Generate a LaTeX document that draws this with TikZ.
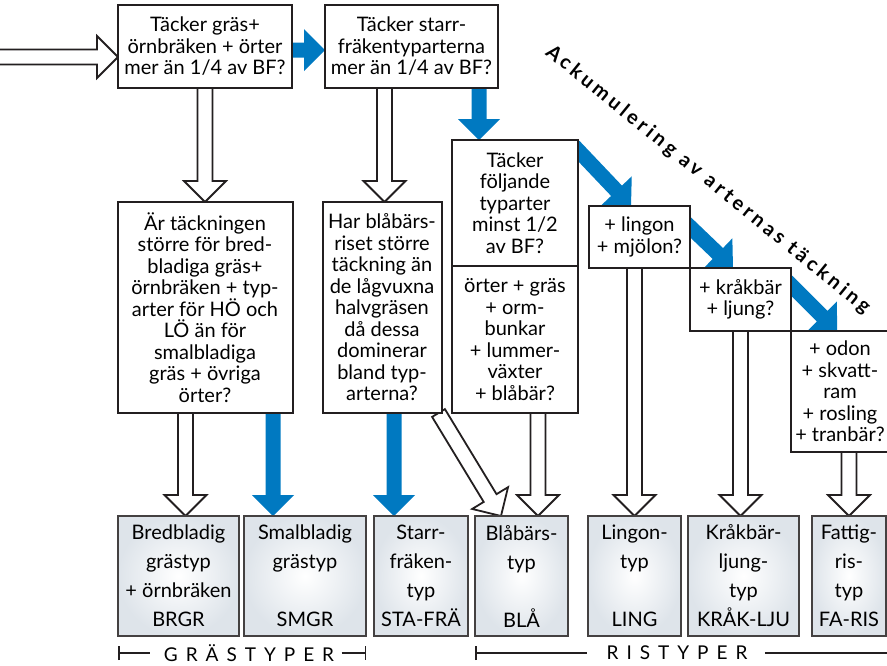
\documentclass[tikz,border=0pt]{standalone}
\usepackage{fontspec}
\setmainfont{Lato}
\usetikzlibrary{positioning,calc,arrows.meta}
\definecolor{keyblue}{RGB}{0,121,193}
\definecolor{keygray}{RGB}{222,228,234}
\definecolor{keyline}{RGB}{35,31,32}
\pgfdeclarelayer{background}
\pgfsetlayers{background,main}
\tikzstyle{question} = [rectangle, draw=keyline, line width=2pt, fill=white, align=center, inner sep=0pt, outer sep=0pt, font=\fontsize{20}{21.5}\selectfont]
\tikzstyle{result} = [rectangle, draw=keyline!85, line width=2pt, inner color=white, outer color=keygray, align=center, inner sep=0pt, outer sep=0pt, minimum height=120pt, font=\fontsize{20}{29}\selectfont]
\tikzstyle{hollow} = [fill=white, draw=keyline, line width=1.8pt]
\tikzstyle{bluearrow} = [fill=keyblue]
\tikzstyle{scalebar} = [line width=1.5pt, draw=keyline]
\tikzstyle{typelabel} = [font=\fontsize{19}{19}\selectfont\addfontfeature{LetterSpace=42}]

% block arrow from #2 to #3
\newcommand{\blockarrow}[3][hollow]{%
  \path[#1] let \p1=(#2), \p2=(#3), \n1={atan2(\y2-\y1,\x2-\x1)}, \n2={veclen(\x2-\x1,\y2-\y1)} in
    ($(\p1)+({\n1+90}:7.5pt)$) -- ++(\n1:{(\n2-21)*1pt}) -- ++({\n1+90}:13.5pt) -- (\p2)
    -- ($(\p2)+({\n1+180}:21pt)+({\n1-90}:21pt)$) -- ++({\n1+90}:13.5pt) -- ++({\n1+180}:{(\n2-21)*1pt}) -- cycle;}

\begin{document}
\begin{tikzpicture}[x=1pt, y=-1pt]
\useasboundingbox (0,0) rectangle (887,665);

% Question boxes
\node[question, minimum width=174pt, minimum height=83pt] (grass) at (205,46.5) {Täcker gräs+\\örnbräken + örter\\mer än 1/4 av BF?};
\node[question, minimum width=173pt, minimum height=83pt, right=33pt of grass] (sedge) {Täcker starr-\\fräkentyparterna\\mer än 1/4 av BF?};
\node[question, minimum width=175pt, minimum height=211pt, below=114pt of grass] (broad) {Är täckningen\\större för bred-\\bladiga gräs+\\örnbräken + typ-\\arter för HÖ och\\LÖ än för\\smalbladiga\\gräs + övriga\\örter?};
\node[question, minimum width=119pt, minimum height=211pt, right=30pt of broad] (blueb) {Har blåbärs-\\riset större\\täckning än\\de lågvuxna\\halvgräsen\\då dessa\\dominerar\\bland typ-\\arterna?};
\node[question, minimum width=126pt, minimum height=126pt, anchor=north west] (herbs) at (452,140) {Täcker\\följande\\typarter\\minst 1/2\\av BF?};
\node[question, minimum width=126pt, minimum height=147pt, below=0pt of herbs] (herbsb) {örter + gräs\\+ orm-\\bunkar\\+ lummer-\\växter\\+ blåbär?};
\node[question, minimum width=101pt, minimum height=62pt, anchor=north west] (lingon) at (589,206) {+ lingon\\+ mjölon?};
\node[question, minimum width=101pt, minimum height=63pt, below right=0pt and 0pt of lingon] (crow) {+ kråkbär\\+ ljung?};
\node[question, minimum width=98pt, minimum height=121pt, below right=0pt and 0pt of crow] (poor) {+ odon\\+ skvatt-\\ram\\+ rosling\\+ tranbär?};

% Heading along the diagonal
\node[font=\fontsize{20}{20}\selectfont\bfseries\addfontfeature{LetterSpace=18}, rotate=-39.2] (accum) at (708,180) {Ackumulering av arternas täckning};

% Result boxes
\node[result, minimum width=121pt, anchor=north west] (brgr) at (118,516) {Bredbladig\\grästyp\\+ örnbräken\\BRGR};
\node[result, minimum width=122pt, right=5pt of brgr] (smgr) {Smalbladig\\grästyp\\~\\SMGR};
\node[result, minimum width=94pt, right=8pt of smgr] (stafra) {Starr-\\fräken-\\typ\\STA-FRÄ};
\node[result, minimum width=93pt, right=7pt of stafra] (bla) {Blåbärs-\\typ\\~\\BLÅ};
\node[result, minimum width=93pt, right=20pt of bla] (ling) {Lingon-\\typ\\~\\LING};
\node[result, minimum width=111pt, right=7pt of ling] (kraklju) {Kråkbär-\\ljung-\\typ\\KRÅK-LJU};
\node[result, minimum width=74pt, right=13pt of kraklju] (faris) {Fattig-\\ris-\\typ\\FA-RIS};

% Group labels
\node[typelabel] (grastyper) at (249,653) {GRÄSTYPER};
\node[typelabel] (ristyper) at (677,653) {RISTYPER};
\coordinate (rightedge) at (895,653);
\draw[scalebar, {Bar[width=14pt]}-] (brgr.south west |- grastyper) -- ([xshift=-10pt]grastyper.west);
\draw[scalebar, -{Bar[width=14pt]}] ([xshift=4pt]grastyper.east) -- (smgr.south east |- grastyper);
\draw[scalebar, {Bar[width=14pt]}-] (bla.south west |- ristyper) -- ([xshift=-16pt]ristyper.west);
\draw[scalebar] ([xshift=14pt]ristyper.east) -- (rightedge);

% Arrows
\begin{pgfonlayer}{background}
\coordinate (entry) at (-10,57);
\coordinate (tipbrgr) at ($(brgr.north)+(7,0)$);
\coordinate (tipsmgr) at ($(smgr.north west)+(29,0)$);
\coordinate (tipsta) at ($(stafra.north west)+(20,0)$);
\coordinate (tipbla) at ($(bla.north west)+(63,0)$);
\blockarrow{entry}{entry -| grass.west}
\blockarrow[bluearrow]{$(grass.east)+(0,3.5)$}{$(sedge.west)+(0,3.5)$}
\blockarrow{grass.south}{grass.south |- broad.north}
\blockarrow{$(blueb.north |- sedge.south)+(2.5,0)$}{$(blueb.north)+(2.5,0)$}
\blockarrow[bluearrow]{$(sedge.south east)+(-19,0)$}{$(sedge.south east |- herbs.north)+(-19,0)$}
\blockarrow[bluearrow]{$(herbs.north east)+(-4,6)$}{$(lingon.north west)+(42,0)$}
\blockarrow[bluearrow]{$(lingon.north east)+(-4,17)$}{$(crow.north west)+(43,0)$}
\blockarrow[bluearrow]{$(crow.north east)+(-4,13)$}{$(poor.north west)+(46,0)$}
\blockarrow{tipbrgr |- broad.south}{tipbrgr}
\blockarrow[bluearrow]{tipsmgr |- broad.south}{tipsmgr}
\blockarrow[bluearrow]{tipsta |- blueb.south}{tipsta}
\blockarrow{$(blueb.south east)+(-3,0)$}{$(bla.north west)+(26,0)$}
\blockarrow{tipbla |- herbsb.south}{tipbla}
\blockarrow{ling.north |- lingon.south}{ling.north}
\blockarrow{crow.south}{crow.south |- kraklju.north}
\blockarrow{faris.north |- poor.south}{faris.north}
\end{pgfonlayer}

\end{tikzpicture}
\end{document}
